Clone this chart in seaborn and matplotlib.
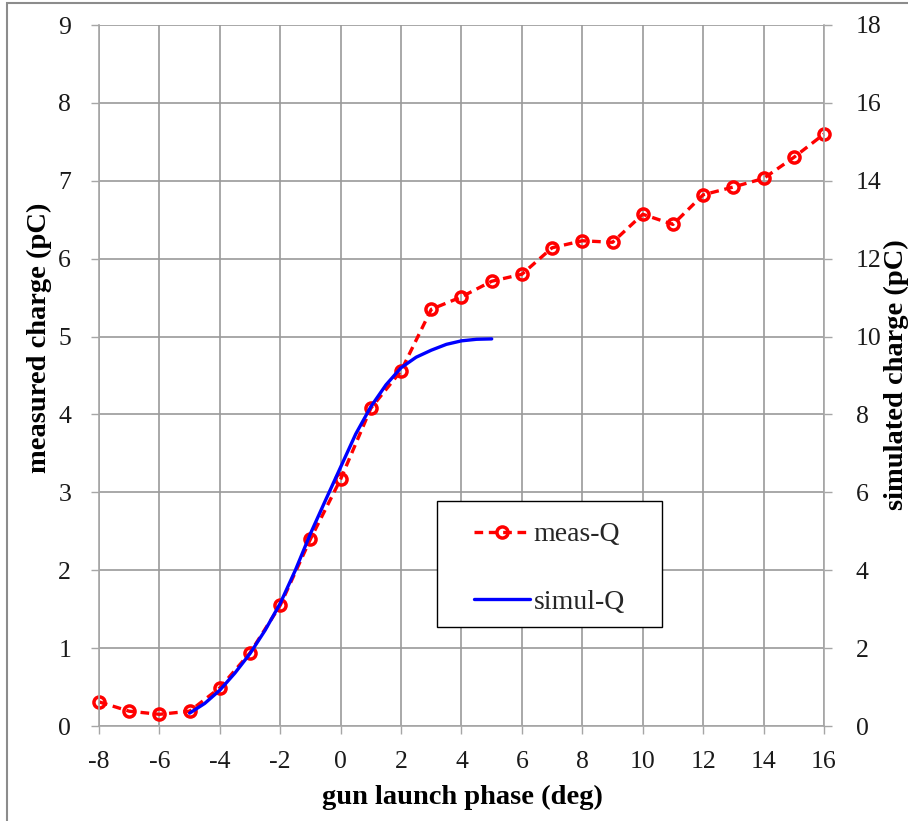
import matplotlib
matplotlib.use("Agg")
import matplotlib.pyplot as plt
from matplotlib.patches import Rectangle
from matplotlib.lines import Line2D
import seaborn as sns

# measured charge vs gun launch phase
phase_meas = [-8, -7, -6, -5, -4, -3, -2, -1, 0, 1, 2, 3, 4, 5, 6, 7, 8,
              9, 10, 11, 12, 13, 14, 15, 16]
charge_meas = [0.31, 0.19, 0.15, 0.19, 0.49, 0.94, 1.55, 2.40, 3.17, 4.08,
               4.56, 5.35, 5.51, 5.71, 5.80, 6.14, 6.23, 6.21, 6.57, 6.44,
               6.82, 6.92, 7.03, 7.30, 7.60]

# simulated charge (right axis)
phase_sim = [-5, -4.5, -4, -3.5, -3, -2.5, -2, -1.5, -1, -0.5, 0, 0.5, 1,
             1.5, 2, 2.5, 3, 3.5, 4, 4.5, 5]
charge_sim = [0.33, 0.58, 0.92, 1.36, 1.86, 2.46, 3.15, 4.00, 4.94, 5.80,
              6.65, 7.50, 8.20, 8.76, 9.20, 9.47, 9.65, 9.80, 9.89, 9.93, 9.94]

x_ticks = list(range(-8, 17, 2))
left_ticks = list(range(0, 10))
right_ticks = list(range(0, 19, 2))

sns.set_style("white")
plt.rcParams["font.family"] = ["Liberation Serif", "DejaVu Serif"]

W, H = 908, 821
fig = plt.figure(figsize=(W / 100, H / 100), dpi=100)
ax = fig.add_axes([99 / W, 1 - 726 / H, (824 - 99) / W, (726 - 25) / H])
ax2 = ax.twinx()

grid_c = "#9a9a9a"
axis_c = "#a6a6a6"
text_c = "#1a1a1a"
tick_fs = 18.5
title_fs = 20.5

ax.set_xlim(-8, 16)
ax.set_ylim(0, 9)
ax2.set_ylim(0, 18)
ax.set_xticks(x_ticks)
ax.set_yticks(left_ticks)
ax2.set_yticks(right_ticks)
ax.set_xticklabels([str(v) for v in x_ticks])
ax.set_yticklabels([str(v) for v in left_ticks])
ax2.set_yticklabels([str(v) for v in right_ticks])

ax.grid(True, color=grid_c, lw=1.2)
ax.set_axisbelow(True)
ax2.grid(False)

for a in (ax, ax2):
    for s in a.spines.values():
        s.set_visible(False)
ax.spines["left"].set_visible(True)
ax.spines["bottom"].set_visible(True)
ax2.spines["right"].set_visible(True)
for s in (ax.spines["left"], ax.spines["bottom"], ax2.spines["right"]):
    s.set_color(axis_c)
    s.set_linewidth(1.2)

ax.tick_params(axis="both", which="both", direction="out", length=6,
               width=1.0, color=axis_c, labelsize=tick_fs, labelcolor=text_c,
               bottom=True, left=True)
ax.tick_params(axis="x", pad=12)
ax.tick_params(axis="y", pad=14)
ax2.tick_params(axis="y", direction="out", length=6, width=1.0,
                color=axis_c, labelsize=tick_fs, labelcolor=text_c, pad=17,
                right=True)

# measured: red dashed with open circles
sns.lineplot(x=phase_meas, y=charge_meas, ax=ax, color="red", lw=2.4,
             marker="o", markersize=8, markerfacecolor="none",
             markeredgecolor="red", markeredgewidth=2.5, linestyle="--",
             clip_on=False)
ax.lines[-1].set_dashes([2.6, 1.7])

# simulated: blue solid on the secondary axis
sns.lineplot(x=phase_sim, y=charge_sim, ax=ax2, color="#0000ff", lw=2.4)

ax.set_xlabel("")
ax.set_ylabel("")
ax2.set_ylabel("")
fig.text(462 / W, 1 - 797 / H, "gun launch phase (deg)", ha="center",
         va="center", fontsize=title_fs, fontweight="bold", color="black")
fig.text(39 / W, 1 - 338 / H, "measured charge (pC)", rotation=90,
         ha="center", va="center", fontsize=title_fs, fontweight="bold",
         color="black")
fig.text(896 / W, 1 - 375 / H, "simulated charge (pC)", rotation=90,
         ha="center", va="center", fontsize=title_fs, fontweight="bold",
         color="black")

# legend box
fig.patches.append(Rectangle((437 / W, 1 - 627 / H), 225 / W, 126 / H,
                             transform=fig.transFigure, facecolor="white",
                             edgecolor="black", lw=1.0, zorder=5))
h_meas = Line2D([], [], color="red", lw=2.4, linestyle=(0, (2.6, 1.7)),
                marker="o", markersize=8, markerfacecolor="none",
                markeredgecolor="red", markeredgewidth=2.5)
h_sim = Line2D([], [], color="#0000ff", lw=2.4)
leg = fig.legend([h_meas, h_sim], ["meas-Q", "simul-Q"], frameon=False,
                 loc="upper left", bbox_to_anchor=(474 / W, 1 - 522 / H),
                 fontsize=20, handlelength=2.0, handletextpad=0.15,
                 labelspacing=1.52, borderpad=0, borderaxespad=0)
leg.set_zorder(6)

# outer chart border
fig.patches.append(Rectangle((7 / W, 1 - 840 / H), 1.2, (840 - 3) / H,
                             transform=fig.transFigure, facecolor="none",
                             edgecolor="#8c8c8c", lw=1.5, zorder=0))

fig.savefig("out.png", dpi=100)
